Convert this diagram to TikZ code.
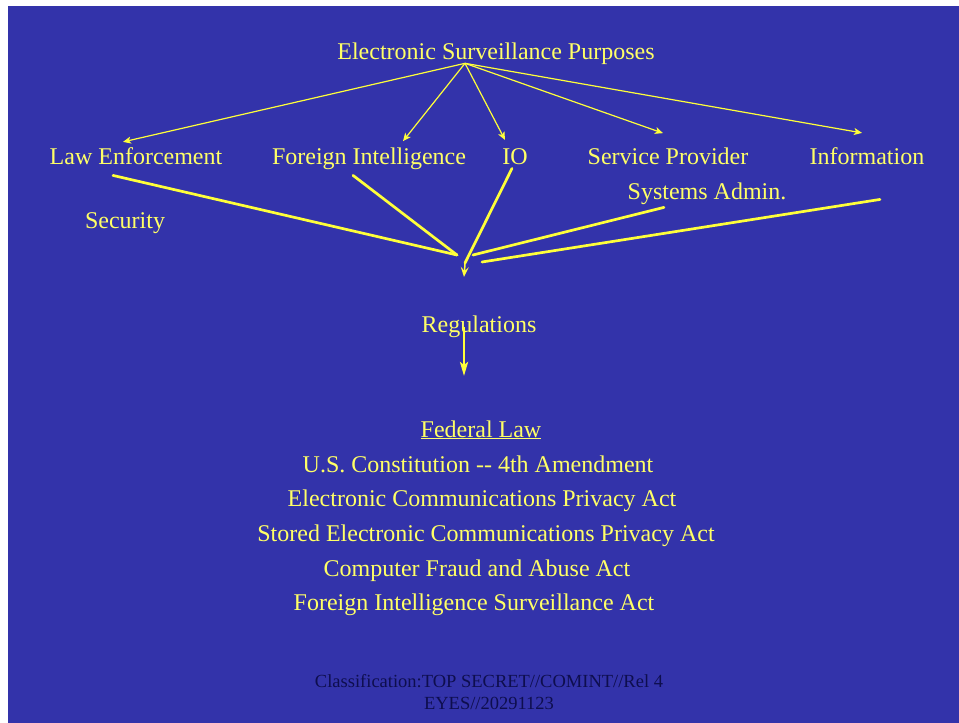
\documentclass[tikz,border=0pt]{standalone}
\usepackage{fontspec}
\setmainfont{Liberation Serif}
\usetikzlibrary{arrows.meta,calc}
\definecolor{bgblue}{HTML}{3333AA}
\definecolor{txtyellow}{HTML}{FFFF66}
\definecolor{lineyellow}{HTML}{FFFF3A}
\definecolor{navy}{HTML}{0E0E4E}
\tikzset{
  lbl/.style={text=txtyellow, font=\fontsize{24}{28}\selectfont, inner sep=0pt, anchor=base},
  cls/.style={text=navy, font=\fontsize{18.5}{22}\selectfont, inner sep=0pt, anchor=base},
  thinarrow/.style={draw=lineyellow, line width=1.2pt, -{Stealth[length=8pt,width=7pt,inset=2pt]}},
  thickline/.style={draw=lineyellow, line width=2.7pt, line cap=round},
  thickarrow/.style={draw=lineyellow, line width=2.7pt, -{Stealth[length=14pt,width=8pt,inset=3pt]}},
  smallarrow/.style={draw=lineyellow, line width=1.5pt, -{Stealth[length=10pt,width=8pt,inset=4pt]}}
}
\begin{document}
\begin{tikzpicture}[x=1pt,y=-1pt]
\useasboundingbox (0,0) rectangle (959,723);
\fill[white] (0,0) rectangle (959,723);
\fill[bgblue] (8,6) rectangle (959,723);

% labels
\node[lbl] (title) at (496,59) {Electronic Surveillance Purposes};
\node[lbl] (law)  at (136,164) {Law Enforcement};
\node[lbl] (fi)   at (369,164) {Foreign Intelligence};
\node[lbl] (io)   at (515,164) {IO};
\node[lbl] (sp)   at (668,164) {Service Provider};
\node[lbl] (info) at (867,164) {Information};
\node[lbl] (sa)   at (707,199) {Systems Admin.};
\node[lbl] (sec)  at (125,228) {Security};
\node[lbl] (reg)  at (479,332) {Regulations};
\node[lbl] (fed)  at (481,437) {\underline{Federal Law}};
\node[lbl] (l1)   at (478,472) {U.S. Constitution -{}- 4th Amendment};
\node[lbl] (l2)   at (482,506) {Electronic Communications Privacy Act};
\node[lbl] (l3)   at (486,541) {Stored Electronic Communications Privacy Act};
\node[lbl] (l4)   at (477,576) {Computer Fraud and Abuse Act};
\node[lbl] (l5)   at (474,610) {Foreign Intelligence Surveillance Act};
\node[cls] (c1)   at (489,687) {Classification:TOP SECRET//COMINT//Rel 4};
\node[cls] (c2)   at (489,709) {EYES//20291123};

% fan-out arrows from the title
\coordinate (src) at ($(title.south)+(-31,-1)$);
\draw[thinarrow] (src) -- ($(law.north)+(-13,-5)$);
\draw[thinarrow] (src) -- ($(fi.north)+(34,-6)$);
\draw[thinarrow] (src) -- ($(io.north)+(-10,-8)$);
\draw[thinarrow] (src) -- ($(sp.north)+(-5,-14)$);
\draw[thinarrow] (src) -- ($(info.north)+(-5,-14)$);

% converging lines
\coordinate (hub) at (465,262);
\draw[thickline] ($(law.south)+(-23,11)$) -- ($(hub)+(-8,-7)$);
\draw[thickline] ($(fi.south)+(-16,6)$) -- ($(hub)+(-8,-7)$);
\draw[thickline] ($(io.south)+(-3,4)$) -- ($(hub)+(0,1)$);
\draw[thickline] ($(sa.south)+(-43,3)$) -- ($(hub)+(8,-7)$);
\draw[thickline] ($(info.south)+(13,35)$) -- ($(hub)+(17,0)$);
\draw[smallarrow] ($(hub)+(0,2)$) -- ($(hub)+(-1,15)$);

% regulations arrow
\coordinate (regend) at ($(reg.base)+(-15,44)$);
\draw[thickarrow] ($(reg.base)+(-15,-5)$) -- (regend);
\end{tikzpicture}
\end{document}
